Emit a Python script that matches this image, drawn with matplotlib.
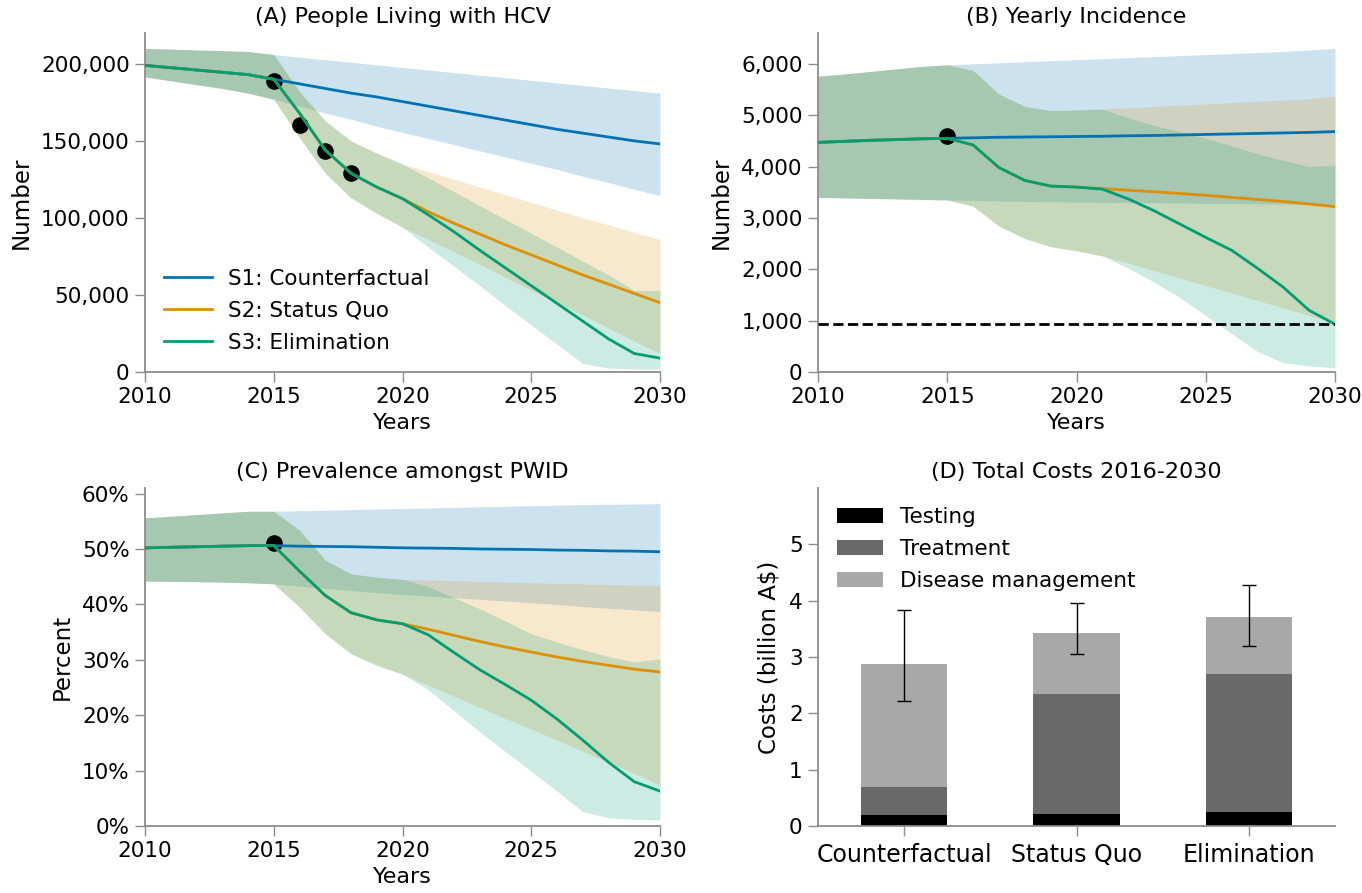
import matplotlib
matplotlib.use("Agg")
import matplotlib.pyplot as plt
from matplotlib.ticker import FuncFormatter

# ---- data ----
YEARS = list(range(2010, 2031))

# (A) People living with HCV, S1/S2/S3 median and uncertainty band
A_S1_MID = [199000, 197500, 196000, 194500, 193000, 190000, 187000, 184000, 181000, 178500, 175500,
            172500, 169500, 166500, 163500, 160500, 157500, 155000, 152500, 150000, 148000]
A_S1_HI = [210000, 209500, 209000, 208500, 208000, 206000, 204300, 202600, 201000, 199300, 197600,
           196000, 194300, 192600, 191000, 189300, 187600, 186000, 184300, 182600, 181000]
A_S1_LO = [191500, 189000, 186500, 184000, 181000, 177000, 172500, 168000, 164000, 159500, 155500,
           151500, 147500, 143500, 139500, 135500, 131500, 127000, 123000, 118500, 114500]
A_S2_MID = [199000, 197500, 196000, 194500, 193000, 190000, 168000, 144000, 129000, 120000, 112500,
            104000, 96500, 89500, 82500, 76000, 69500, 63000, 57000, 51000, 45000]
A_S2_HI = [210000, 209500, 209000, 208500, 208000, 206000, 182000, 163000, 150000, 142000, 135000,
           130000, 125000, 120000, 115000, 110000, 105000, 100000, 95500, 90500, 86000]
A_S2_LO = [191500, 189000, 186500, 184000, 181000, 177000, 152000, 129000, 113000, 103000, 94000,
           86000, 78000, 70000, 61500, 53000, 45000, 37000, 28500, 20000, 12000]
A_S3_MID = [199000, 197500, 196000, 194500, 193000, 190000, 168000, 144000, 129000, 120000, 112500,
            102000, 91000, 79000, 67500, 56000, 44500, 33000, 21500, 12000, 9000]
A_S3_HI = [210000, 209500, 209000, 208500, 208000, 206000, 182000, 163000, 150000, 142000, 135000,
           126000, 117000, 108000, 99000, 90000, 81000, 72000, 63000, 53000, 53000]
A_S3_LO = [191500, 189000, 186500, 184000, 181000, 177000, 152000, 129000, 113000, 103000, 94000,
           81000, 68500, 56000, 43000, 30500, 18000, 5500, 2500, 2000, 2000]
A_DATA_YEARS = [2015, 2016, 2017, 2018]
A_DATA = [189000, 160000, 143500, 129000]

# (B) Yearly incidence
B_S1_MID = [4470, 4490, 4510, 4525, 4540, 4550, 4560, 4570, 4575, 4580, 4585,
            4590, 4600, 4605, 4615, 4625, 4635, 4645, 4655, 4665, 4680]
B_S1_HI = [5760, 5800, 5850, 5900, 5950, 5980, 6000, 6020, 6040, 6060, 6080,
           6100, 6120, 6140, 6160, 6180, 6200, 6220, 6240, 6270, 6300]
B_S1_LO = [3400, 3390, 3380, 3370, 3360, 3350, 3340, 3330, 3320, 3315, 3310,
           3305, 3300, 3295, 3290, 3285, 3280, 3275, 3270, 3260, 3250]
B_S2_MID = [4470, 4490, 4510, 4525, 4540, 4550, 4420, 3980, 3730, 3620, 3600,
            3570, 3540, 3510, 3475, 3440, 3400, 3360, 3320, 3270, 3220]
B_S2_HI = [5760, 5800, 5850, 5900, 5950, 5980, 5870, 5410, 5170, 5090, 5100,
           5120, 5145, 5170, 5195, 5220, 5245, 5270, 5295, 5320, 5370]
B_S2_LO = [3400, 3390, 3380, 3370, 3360, 3350, 3230, 2840, 2600, 2440, 2360,
           2260, 2120, 1970, 1830, 1680, 1540, 1390, 1250, 1100, 960]
B_S3_MID = [4470, 4490, 4510, 4525, 4540, 4550, 4420, 3980, 3730, 3620, 3600,
            3560, 3370, 3140, 2880, 2620, 2370, 2020, 1650, 1200, 930]
B_S3_HI = [5760, 5800, 5850, 5900, 5950, 5980, 5870, 5410, 5170, 5090, 5100,
           5120, 4950, 4800, 4680, 4550, 4400, 4250, 4120, 4000, 4030]
B_S3_LO = [3400, 3390, 3380, 3370, 3360, 3350, 3230, 2840, 2600, 2440, 2360,
           2260, 2020, 1750, 1450, 1100, 750, 400, 180, 120, 80]
B_DATA_YEARS = [2015]
B_DATA = [4600]
B_TARGET = 930

# (C) Prevalence amongst PWID (%)
C_S1_MID = [50.2, 50.3, 50.4, 50.5, 50.6, 50.6, 50.5, 50.45, 50.4, 50.3, 50.2,
            50.15, 50.1, 50.0, 49.95, 49.9, 49.8, 49.75, 49.65, 49.6, 49.5]
C_S1_HI = [55.6, 55.9, 56.2, 56.5, 56.8, 56.8, 56.9, 57.0, 57.1, 57.2, 57.3,
           57.4, 57.5, 57.6, 57.7, 57.8, 57.9, 58.0, 58.05, 58.1, 58.2]
C_S1_LO = [44.2, 44.15, 44.1, 44.0, 43.9, 43.7, 43.3, 42.9, 42.5, 42.1, 41.8,
           41.5, 41.2, 40.9, 40.6, 40.3, 40.0, 39.6, 39.3, 39.0, 38.7]
C_S2_MID = [50.2, 50.3, 50.4, 50.5, 50.6, 50.6, 46.0, 41.6, 38.5, 37.2, 36.5,
            35.5, 34.4, 33.3, 32.3, 31.4, 30.5, 29.7, 29.0, 28.3, 27.8]
C_S2_HI = [55.6, 55.9, 56.2, 56.5, 56.8, 56.8, 53.4, 48.0, 45.5, 44.9, 44.5,
           44.4, 44.3, 44.2, 44.0, 43.9, 43.8, 43.7, 43.6, 43.5, 43.4]
C_S2_LO = [44.2, 44.15, 44.1, 44.0, 43.9, 43.7, 39.5, 34.7, 31.1, 29.0, 27.4,
           25.4, 23.4, 21.4, 19.4, 17.5, 15.5, 13.5, 11.5, 9.5, 7.3]
C_S3_MID = [50.2, 50.3, 50.4, 50.5, 50.6, 50.6, 46.0, 41.6, 38.5, 37.2, 36.5,
            34.5, 31.3, 28.2, 25.5, 22.7, 19.3, 15.5, 11.5, 8.0, 6.3]
C_S3_HI = [55.6, 55.9, 56.2, 56.5, 56.8, 56.8, 53.4, 48.0, 45.5, 44.9, 44.5,
           43.2, 41.2, 39.2, 37.0, 34.7, 33.2, 31.8, 30.6, 29.6, 30.2]
C_S3_LO = [44.2, 44.15, 44.1, 44.0, 43.9, 43.7, 39.5, 34.7, 31.1, 29.0, 27.4,
           24.6, 20.8, 17.0, 13.4, 9.9, 6.3, 2.6, 1.5, 1.2, 1.1]
C_DATA_YEARS = [2015]
C_DATA = [51.1]

# (D) Total costs 2016-2030 (billion A$)
D_SCENARIOS = ["Counterfactual", "Status Quo", "Elimination"]
D_TESTING = [0.19, 0.21, 0.24]
D_TREATMENT = [0.50, 2.13, 2.45]
D_DISEASE = [2.18, 1.08, 1.02]
D_ERR_LOW = [2.22, 3.05, 3.19]
D_ERR_HIGH = [3.83, 3.96, 4.28]

SCENARIO_LABELS = ["S1: Counterfactual", "S2: Status Quo", "S3: Elimination"]
COLORS = ["#0173b2", "#de8f05", "#029e73"]
SPINE_GREY = "#8c8c8c"


def style_axes(ax, labelsize=15.5):
    for side in ["top", "right"]:
        ax.spines[side].set_visible(False)
    for side in ["left", "bottom"]:
        ax.spines[side].set_color(SPINE_GREY)
        ax.spines[side].set_linewidth(1.3)
    ax.tick_params(direction="out", length=7, width=1, color=SPINE_GREY,
                   labelsize=labelsize, pad=4)


def scenario_panel(ax, mids, his, los, data_years, data_vals, title, ylabel):
    for lo, hi, color in zip(los, his, COLORS):
        ax.fill_between(YEARS, lo, hi, color=color, alpha=0.2, linewidth=0, zorder=1)
    ax.scatter(data_years, data_vals, s=120, color="black", zorder=2)
    for mid, color, label in zip(mids, COLORS, SCENARIO_LABELS):
        ax.plot(YEARS, mid, color=color, linewidth=2, label=label, zorder=3)

    ax.set_xlim(2010, 2030)
    ax.set_xticks([2010, 2015, 2020, 2025, 2030])
    ax.set_title(title, fontsize=16, pad=7)
    ax.set_xlabel("Years", fontsize=16, labelpad=4)
    ax.set_ylabel(ylabel, fontsize=16.5, labelpad=6)
    style_axes(ax)


fig = plt.figure(figsize=(13.62, 8.93), dpi=100)
W, H = 1362, 893
axA = fig.add_axes([145 / W, 1 - 372 / H, 515 / W, 339 / H])
axB = fig.add_axes([818 / W, 1 - 372 / H, 517 / W, 339 / H])
axC = fig.add_axes([145 / W, 1 - 826 / H, 515 / W, 338 / H])
axD = fig.add_axes([818 / W, 1 - 826 / H, 517 / W, 338 / H])

thousands = FuncFormatter(lambda v, p: f"{v:,.0f}")

# (A)
scenario_panel(axA, [A_S1_MID, A_S2_MID, A_S3_MID], [A_S1_HI, A_S2_HI, A_S3_HI],
               [A_S1_LO, A_S2_LO, A_S3_LO], A_DATA_YEARS, A_DATA,
               "(A) People Living with HCV", "Number")
axA.set_ylim(0, 220000)
axA.set_yticks([0, 50000, 100000, 150000, 200000])
axA.yaxis.set_major_formatter(thousands)
axA.legend(loc="lower left", frameon=False, fontsize=15.5, handlelength=2.2,
           handletextpad=0.75, labelspacing=0.55)

# (B)
scenario_panel(axB, [B_S1_MID, B_S2_MID, B_S3_MID], [B_S1_HI, B_S2_HI, B_S3_HI],
               [B_S1_LO, B_S2_LO, B_S3_LO], B_DATA_YEARS, B_DATA,
               "(B) Yearly Incidence", "Number")
axB.axhline(B_TARGET, color="black", linestyle="--", linewidth=2, zorder=4)
axB.set_ylim(0, 6600)
axB.set_yticks(range(0, 7000, 1000))
axB.yaxis.set_major_formatter(thousands)

# (C)
scenario_panel(axC, [C_S1_MID, C_S2_MID, C_S3_MID], [C_S1_HI, C_S2_HI, C_S3_HI],
               [C_S1_LO, C_S2_LO, C_S3_LO], C_DATA_YEARS, C_DATA,
               "(C) Prevalence amongst PWID", "Percent")
axC.set_ylim(0, 61)
axC.set_yticks(range(0, 70, 10))
axC.yaxis.set_major_formatter(FuncFormatter(lambda v, p: f"{v:.0f}%"))

# (D)
x = range(len(D_SCENARIOS))
bottom_treat = D_TESTING
bottom_dis = [t + r for t, r in zip(D_TESTING, D_TREATMENT)]
totals = [b + d for b, d in zip(bottom_dis, D_DISEASE)]
axD.bar(x, D_TESTING, width=0.5, color="black", label="Testing")
axD.bar(x, D_TREATMENT, width=0.5, bottom=bottom_treat, color="#696969", label="Treatment")
axD.bar(x, D_DISEASE, width=0.5, bottom=bottom_dis, color="#a8a8a8", label="Disease management")
axD.errorbar(x, totals,
             yerr=[[t - lo for t, lo in zip(totals, D_ERR_LOW)],
                   [hi - t for t, hi in zip(totals, D_ERR_HIGH)]],
             fmt="none", ecolor="black", elinewidth=1, capsize=5, capthick=1)
axD.set_xlim(-0.5, 2.5)
axD.set_ylim(0, 6)
axD.set_yticks(range(0, 6))
axD.set_xticks(list(x))
axD.set_xticklabels(D_SCENARIOS)
axD.set_title("(D) Total Costs 2016-2030", fontsize=16, pad=7)
axD.set_ylabel(r"Costs (billion A\$)", fontsize=16.5, labelpad=6)
style_axes(axD)
axD.tick_params(axis="x", labelsize=17, pad=5)
axD.legend(loc="upper left", frameon=False, fontsize=15.5, handlelength=2.1,
           handletextpad=0.8, labelspacing=0.55)

fig.savefig("out.png", dpi=100)
